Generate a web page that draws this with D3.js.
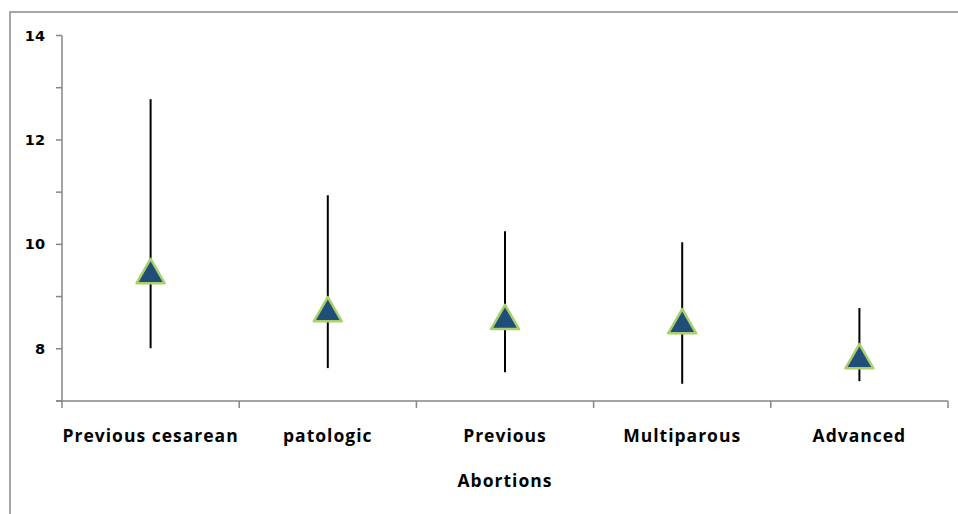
<!DOCTYPE html>
<html lang="en">
<head>
<meta charset="utf-8">
<title>Abortions</title>
<script src="https://cdnjs.cloudflare.com/ajax/libs/d3/7.8.5/d3.min.js"></script>
<style>
  body { margin: 0; background: #fff; }
  .cat { font-family: "Open Sans", sans-serif; font-weight: bold; font-size: 17.5px; letter-spacing: 1px; fill: #000; }
  .ylab { font-family: "DejaVu Sans", sans-serif; font-weight: bold; font-size: 14.5px; fill: #000; }
</style>
</head>
<body>
<script>
const categories = ["Previous cesarean", "patologic", "Previous", "Multiparous", "Advanced"];
const mid = [9.45, 8.72, 8.57, 8.49, 7.82];
const low = [8.01, 7.63, 7.55, 7.33, 7.38];
const high = [12.78, 10.94, 10.25, 10.04, 8.78];
const yTicks = [8, 10, 12, 14];
const xTitle = "Abortions";

const W = 958, H = 514;
const svg = d3.select("body").append("svg").attr("width", W).attr("height", H);

// outer frame (right and bottom edges fall outside the picture)
svg.append("rect")
  .attr("x", 10).attr("y", 12).attr("width", 960).attr("height", 520)
  .attr("fill", "none").attr("stroke", "#a6a6a6").attr("stroke-width", 2);

const x = d3.scaleBand().domain(categories).range([62, 948]);
const y = d3.scaleLinear().domain([7, 14]).range([401, 35.5]);

const axisColor = "#868686";

// y axis: line + ticks every 1, labels every 2
svg.append("line")
  .attr("x1", 62).attr("x2", 62).attr("y1", y(14)).attr("y2", y(7))
  .attr("stroke", axisColor).attr("stroke-width", 1.5);
svg.selectAll(".ytick").data(d3.range(7, 15)).enter().append("line")
  .attr("x1", 56).attr("x2", 62)
  .attr("y1", d => y(d)).attr("y2", d => y(d))
  .attr("stroke", axisColor).attr("stroke-width", 1.5);
svg.selectAll(".ylab").data(yTicks).enter().append("text")
  .attr("class", "ylab")
  .attr("x", 45).attr("y", d => y(d) + 5)
  .attr("text-anchor", "end")
  .text(d => d);

// x axis: line + boundary ticks
svg.append("line")
  .attr("x1", 56).attr("x2", 948).attr("y1", y(7)).attr("y2", y(7))
  .attr("stroke", axisColor).attr("stroke-width", 1.5);
const bounds = categories.map(c => x(c)).concat([x.range()[1]]);
svg.selectAll(".xtick").data(bounds).enter().append("line")
  .attr("x1", d => d).attr("x2", d => d)
  .attr("y1", y(7)).attr("y2", y(7) + 7)
  .attr("stroke", axisColor).attr("stroke-width", 1.5);

svg.selectAll(".cat").data(categories).enter().append("text")
  .attr("class", "cat")
  .attr("x", d => x(d) + x.bandwidth() / 2)
  .attr("y", 442)
  .attr("text-anchor", "middle")
  .text(d => d);

svg.append("text").attr("class", "cat")
  .attr("x", x(categories[2]) + x.bandwidth() / 2)
  .attr("y", 487)
  .attr("text-anchor", "middle")
  .text(xTitle);

// high-low lines
svg.selectAll(".hl").data(categories).enter().append("line")
  .attr("x1", d => x(d) + x.bandwidth() / 2)
  .attr("x2", d => x(d) + x.bandwidth() / 2)
  .attr("y1", (d, i) => y(high[i]))
  .attr("y2", (d, i) => y(low[i]))
  .attr("stroke", "#000").attr("stroke-width", 2);

// triangle markers
const tri = d3.symbol().type(d3.symbolTriangle).size(340);
svg.selectAll(".mk").data(categories).enter().append("path")
  .attr("d", tri)
  .attr("transform", (d, i) => "translate(" + (x(d) + x.bandwidth() / 2) + "," + (y(mid[i]) + 2) + ")")
  .attr("fill", "#1f4e79")
  .attr("stroke", "#a9cf6b").attr("stroke-width", 2.5)
  .attr("stroke-linejoin", "round");
</script>
</body>
</html>
